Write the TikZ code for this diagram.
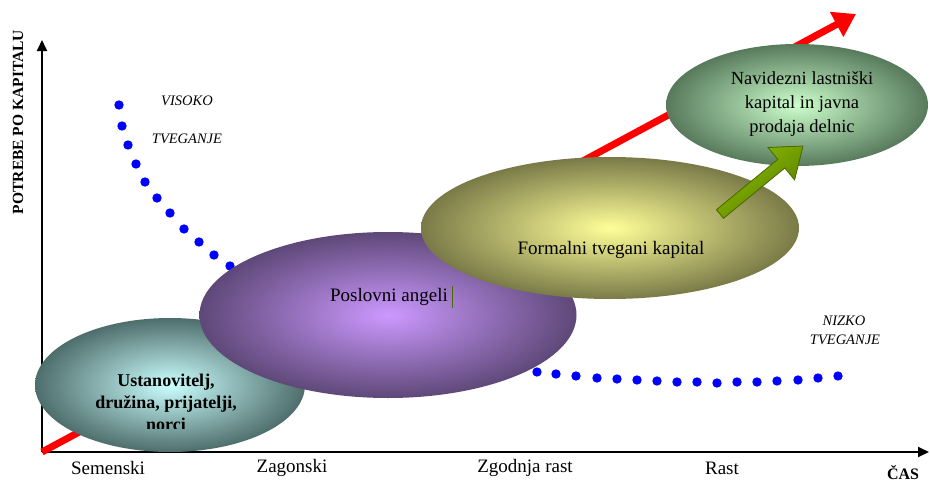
\documentclass[tikz,border=0pt]{standalone}
\usepackage{fontspec}
\setmainfont{Liberation Serif}
\usetikzlibrary{shapes.geometric,arrows.meta}
\definecolor{tealin}{HTML}{CCFFFF}
\definecolor{tealout}{HTML}{4E6E6C}
\definecolor{purin}{HTML}{CC99FF}
\definecolor{purout}{HTML}{5E4878}
\definecolor{olvin}{HTML}{FFFF99}
\definecolor{olvout}{HTML}{7A7A48}
\definecolor{grnin}{HTML}{CCFFCC}
\definecolor{grnout}{HTML}{587A5C}
\definecolor{dotblue}{HTML}{0000FF}
\definecolor{arrowgreen}{HTML}{8CBF00}
\definecolor{arrowdark}{HTML}{4A6B00}
\tikzset{
  blob/.style={ellipse, inner sep=0pt, shading=radial},
  lbl/.style={font=\fontsize{19}{22}\selectfont, align=center, inner sep=0pt},
  risk/.style={font=\itshape\fontsize{14.5}{17}\selectfont, inner sep=0pt},
  axlbl/.style={font=\fontsize{19}{22}\selectfont, inner sep=0pt},
  axis/.style={line width=2pt, -{Triangle[length=11pt,width=10pt]}},
  dot/.style={fill=dotblue}
}
\begin{document}
\begin{tikzpicture}[x=1pt,y=-1pt]
\useasboundingbox (0,0) rectangle (930,482);
% axes
\coordinate (O) at (42,452);
\coordinate (Ytop) at (42,40);
\coordinate (Xend) at (929,452);
\draw[axis] (O) -- (Ytop);
\draw[axis] (O) -- (Xend);
% red growth arrow
\coordinate (Rtip) at (856,14);
\draw[red, line width=7pt, -{Triangle[length=22pt,width=27pt]}] (O) -- (Rtip);
% risk dots
\foreach \x/\y in {119/105,122/126,128/145,136/164,145/182,157/198,170/213,184/229,199/242,214/255,230/266,247/277,265/288,284/298,304/308,324/318,344/327,365/335,386/342,407/349,428/355,449/360,471/364,493/367,515/370,
537/372,556/374,576/376,597/378,617/379,637/380,657/381,677/382,697/382,717/383,737/382,757/382,777/381,798/380,818/378,838/376}
  \fill[dot] (\x,\y) circle[radius=4.7pt];
% ellipses
\node[blob, inner color=tealin, outer color=tealout, minimum width=270pt, minimum height=134pt] (seed) at (170,385) {};
\node[blob, inner color=purin, outer color=purout, minimum width=377pt, minimum height=166pt] (angels) at (388,315) {};
\node[blob, inner color=olvin, outer color=olvout, minimum width=378pt, minimum height=142pt] (vc) at (610,228) {};
\node[blob, inner color=grnin, outer color=grnout, minimum width=262pt, minimum height=122pt] (ipo) at (797,105) {};
% texts in ellipses
\begin{scope}
\clip (30,330) rectangle (310,428);
\node[lbl, font=\bfseries\fontsize{18}{22}\selectfont] (seedtxt) at (166,402) {Ustanovitelj,\\dru\v{z}ina, prijatelji,\\norci};
\end{scope}
\node[lbl] (angtxt) at (389,297) {Poslovni angeli};
\coordinate (cur1) at (452,286);
\coordinate (cur2) at (452,308);
\draw[arrowdark, line width=0.8pt] (cur1) -- (cur2);
\node[lbl] (vctxt) at (611,250) {Formalni tvegani kapital};
\node[lbl, font=\fontsize{18.5}{24}\selectfont] (ipotxt) at (802,104) {Navidezni lastni\v{s}ki\\kapital in javna\\prodaja delnic};
% green arrow
\filldraw[draw=arrowdark, line width=0.8pt, top color=arrowgreen, bottom color=arrowdark!80!arrowgreen, shading angle=40]
 (716.5,209.7) -- (777.8,159.4) -- (768.0,147.5) -- (803,146) -- (794.6,179.9) -- (784.8,168.0) -- (723.5,218.3) -- cycle;
% risk labels
\node[risk] (vis1) at (187,101) {VISOKO};
\node[risk] (vis2) at (187,139) {TVEGANJE};
\node[risk] (niz1) at (844,321) {NIZKO};
\node[risk] (niz2) at (845,340) {TVEGANJE};
% axis labels
\node[axlbl] (s1) at (108,468) {Semenski};
\node[axlbl] (s2) at (292,468) {Zagonski};
\node[axlbl] (s3) at (525,468) {Zgodnja rast};
\node[axlbl] (s4) at (722,468) {Rast};
\node[font=\bfseries\fontsize{16}{18}\selectfont, inner sep=0pt] (cas) at (903,473) {\v{C}AS};
\node[font=\bfseries\fontsize{15.5}{18}\selectfont, inner sep=0pt, rotate=90] (ylab) at (18,122) {POTREBE PO KAPITALU};
\end{tikzpicture}
\end{document}
